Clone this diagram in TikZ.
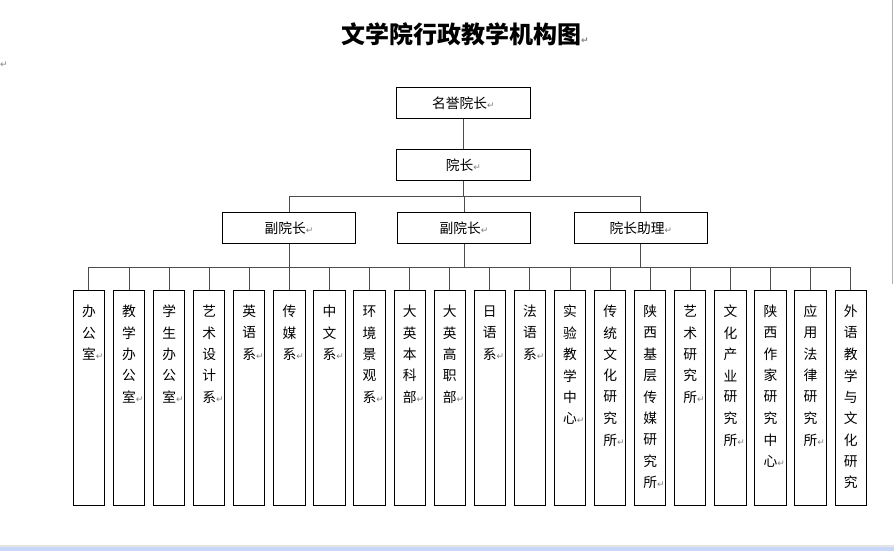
\documentclass[tikz,border=0pt]{standalone}
\usepackage{fontspec}
\setmainfont{Noto Sans CJK SC}
\newfontfamily\djv{DejaVu Sans}
\definecolor{conn}{rgb}{0.30,0.30,0.30}
\definecolor{markgray}{rgb}{0.50,0.50,0.50}
\definecolor{bandblue}{RGB}{200,215,248}
\definecolor{edgegray}{RGB}{176,176,180}
\newcommand\retmark{{\djv\fontsize{9}{9}\selectfont\textcolor{markgray}{↵}}}
\tikzset{
  topbox/.style={draw=black, line width=1pt, minimum width=133.5pt, minimum height=31pt, inner sep=0pt, font=\fontsize{13.75}{14}\selectfont},
  lowbox/.style={draw=black, line width=1pt, minimum width=31.3pt, minimum height=215pt, inner sep=0pt},
  ch/.style={inner sep=0pt, font=\fontsize{13.75}{14}\selectfont},
  link/.style={draw=conn, line width=1pt},
  titletext/.style={inner sep=0pt, font=\fontsize{24}{26}\selectfont\bfseries}
}
\begin{document}
\begin{tikzpicture}[x=1pt,y=-1pt]
\useasboundingbox (0,0) rectangle (894,551);
\fill[white] (0,0) rectangle (894,551);
% screen artifacts
\draw[edgegray, line width=1pt] (892.5,0) -- (892.5,284);
\fill[gray!22] (0,544.5) rectangle (894,546.5);
\fill[bandblue] (0,546.5) rectangle (894,551);
\node[inner sep=0pt, anchor=west] (tlmark) at (0,65) {\retmark};
% title
\node[titletext] (title) at (461,34.2) {文学院行政教学机构图\rlap{\retmark}};
% top levels
\node[topbox] (hon) at (463.5,103) {名誉院长\retmark};
\node[topbox] (dean) at (463.5,165) {院长\retmark};
\node[topbox] (m1) at (289,227.8) {副院长\retmark};
\node[topbox] (m2) at (464,227.8) {副院长\retmark};
\node[topbox] (m3) at (640.8,227.8) {院长助理\retmark};
\coordinate (busA) at (0,196.2);
\coordinate (busB) at (0,267.3);
\draw[link] (hon.south) -- (dean.north);
\draw[link] (dean.south) -- (dean.south |- busA);
\draw[link] (m1.north |- busA) -- (m3.north |- busA);
\foreach \j in {1,2,3} {
  \draw[link] (m\j.north |- busA) -- (m\j.north);
  \draw[link] (m\j.south) -- (m\j.south |- busB);
}
% lower boxes
\foreach \lst [count=\i] in {
  {办,公,室\rlap{\retmark}},
  {教,学,办,公,室\rlap{\retmark}},
  {学,生,办,公,室\rlap{\retmark}},
  {艺,术,设,计,系\rlap{\retmark}},
  {英,语,系\rlap{\retmark}},
  {传,媒,系\rlap{\retmark}},
  {中,文,系\rlap{\retmark}},
  {环,境,景,观,系\rlap{\retmark}},
  {大,英,本,科,部\rlap{\retmark}},
  {大,英,高,职,部\rlap{\retmark}},
  {日,语,系\rlap{\retmark}},
  {法,语,系\rlap{\retmark}},
  {实,验,教,学,中,心\rlap{\retmark}},
  {传,统,文,化,研,究,所\rlap{\retmark}},
  {陕,西,基,层,传,媒,研,究,所\rlap{\retmark}},
  {艺,术,研,究,所\rlap{\retmark}},
  {文,化,产,业,研,究,所\rlap{\retmark}},
  {陕,西,作,家,研,究,中,心\rlap{\retmark}},
  {应,用,法,律,研,究,所\rlap{\retmark}},
  {外,语,教,学,与,文,化,研,究}} {
  \node[lowbox] (b\i) at ({88.95+40.09*(\i-1)},397.8) {};
  \foreach \c [count=\k] in \lst {
    \path (b\i.north) ++(0,{21.7+(\k-1)*21.4}) node[ch] (c\i-\k) {\c};
  }
  \draw[link] (b\i.north |- busB) -- (b\i.north);
}
\draw[link] (b1.north |- busB) -- (b20.north |- busB);
\end{tikzpicture}
\end{document}
